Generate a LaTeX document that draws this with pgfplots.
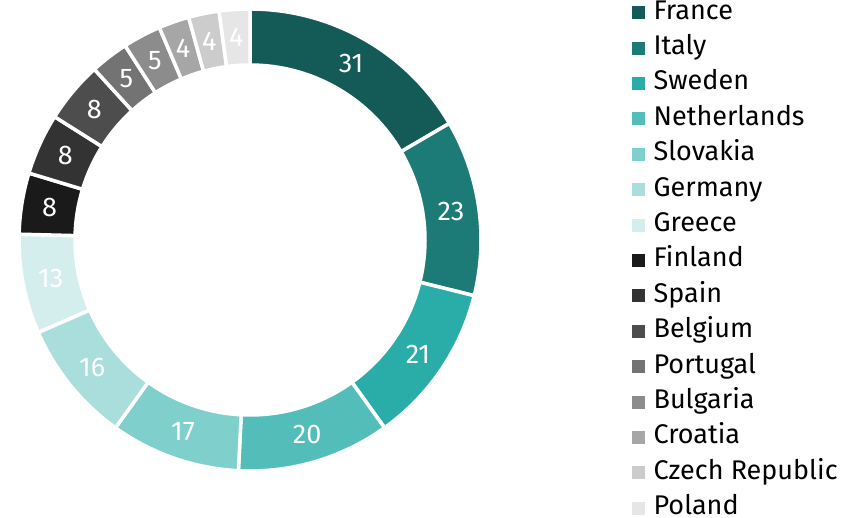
\documentclass[border=0pt]{standalone}
\usepackage{fontspec}
\setmainfont{Fira Sans}
\usepackage{pgfplots}
\pgfplotsset{compat=1.18}

\definecolor{cFrance}{HTML}{145A57}
\definecolor{cItaly}{HTML}{1C7B77}
\definecolor{cSweden}{HTML}{2AADA9}
\definecolor{cNetherlands}{HTML}{52BDB9}
\definecolor{cSlovakia}{HTML}{7FCFCC}
\definecolor{cGermany}{HTML}{A9DEDC}
\definecolor{cGreece}{HTML}{D4EEEE}
\definecolor{cFinland}{HTML}{1A1A1A}
\definecolor{cSpain}{HTML}{333333}
\definecolor{cBelgium}{HTML}{4D4D4D}
\definecolor{cPortugal}{HTML}{737373}
\definecolor{cBulgaria}{HTML}{8C8C8C}
\definecolor{cCroatia}{HTML}{A6A6A6}
\definecolor{cCzech}{HTML}{CCCCCC}
\definecolor{cPoland}{HTML}{E6E6E6}

% donut geometry (1 unit = 1pt), centre and radii
\def\cx{250}\def\cy{278}
\def\ro{231}\def\ri{175}\def\rl{203}
\def\total{187}
\gdef\cum{0}

% one ring segment: value, colour
\newcommand\slice[2]{%
  \pgfmathsetmacro\sa{90-\cum/\total*360}%
  \pgfmathsetmacro\nb{\cum+#1}%
  \xdef\cum{\nb}%
  \pgfmathsetmacro\ea{90-\cum/\total*360}%
  \pgfmathsetmacro\ma{(\sa+\ea)/2}%
  \edef\tmp{%
    \noexpand\fill[#2, draw=white, line width=3.5pt]
      (axis cs:{\cx+\ro*cos(\sa)},{\cy+\ro*sin(\sa)})
      arc[start angle=\sa, end angle=\ea, radius=\ro pt]
      -- (axis cs:{\cx+\ri*cos(\ea)},{\cy+\ri*sin(\ea)})
      arc[start angle=\ea, end angle=\sa, radius=\ri pt] -- cycle;
    \noexpand\node[white, font=\noexpand\fontsize{27}{32}\noexpand\selectfont]
      at (axis cs:{\cx+\rl*cos(\ma)},{\cy+\rl*sin(\ma)}) {#1};
  }%
  \tmp
}

\begin{document}
\begin{tikzpicture}
\useasboundingbox (0,0) rectangle (861pt,518pt);
\begin{axis}[
  at={(0,0)}, anchor=south west,
  x=1pt, y=1pt,
  xmin=0, xmax=861, ymin=0, ymax=518,
  hide axis, clip=false,
  legend style={at={(axis cs:632,518)}, anchor=north west,
    draw=none, fill=none, inner sep=0pt,
    font=\fontsize{27}{35}\selectfont,
    row sep=0pt, column sep=9pt,
    nodes={inner sep=0pt, text height=19pt, text depth=16.4pt}},
  legend cell align=left,
  legend image code/.code={\fill[#1] (0pt,-0.5pt) rectangle (12pt,11.5pt);},
]
\addlegendimage{cFrance}\addlegendentry{France}
\addlegendimage{cItaly}\addlegendentry{Italy}
\addlegendimage{cSweden}\addlegendentry{Sweden}
\addlegendimage{cNetherlands}\addlegendentry{Netherlands}
\addlegendimage{cSlovakia}\addlegendentry{Slovakia}
\addlegendimage{cGermany}\addlegendentry{Germany}
\addlegendimage{cGreece}\addlegendentry{Greece}
\addlegendimage{cFinland}\addlegendentry{Finland}
\addlegendimage{cSpain}\addlegendentry{Spain}
\addlegendimage{cBelgium}\addlegendentry{Belgium}
\addlegendimage{cPortugal}\addlegendentry{Portugal}
\addlegendimage{cBulgaria}\addlegendentry{Bulgaria}
\addlegendimage{cCroatia}\addlegendentry{Croatia}
\addlegendimage{cCzech}\addlegendentry{Czech Republic}
\addlegendimage{cPoland}\addlegendentry{Poland}

\slice{31}{cFrance}
\slice{23}{cItaly}
\slice{21}{cSweden}
\slice{20}{cNetherlands}
\slice{17}{cSlovakia}
\slice{16}{cGermany}
\slice{13}{cGreece}
\slice{8}{cFinland}
\slice{8}{cSpain}
\slice{8}{cBelgium}
\slice{5}{cPortugal}
\slice{5}{cBulgaria}
\slice{4}{cCroatia}
\slice{4}{cCzech}
\slice{4}{cPoland}
\end{axis}
\end{tikzpicture}
\end{document}
